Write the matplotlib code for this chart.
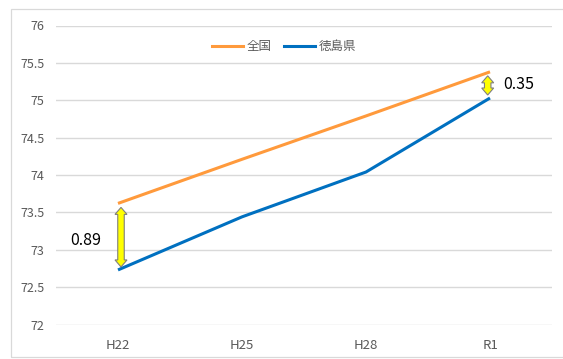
import matplotlib
matplotlib.use("Agg")
import matplotlib.pyplot as plt
from matplotlib.patches import Polygon, Rectangle
from matplotlib.lines import Line2D
import numpy as np

plt.rcParams['font.family'] = ['Noto Sans CJK JP', 'DejaVu Sans']

# Data
periods = ["H22", "H25", "H28", "R1"]
national = [73.62, 74.21, 74.79, 75.38]
tokushima = [72.73, 73.44, 74.04, 75.03]
series_names = ["全国", "徳島県"]
gap_positions = [0, 3]
y_ticks = [72, 72.5, 73, 73.5, 74, 74.5, 75, 75.5, 76]

ORANGE = "#FF9A3C"
BLUE = "#0070C0"
GRID = "#D9D9D9"
TEXT = "#595959"

DPI = 100
W, H = 563, 359
fig = plt.figure(figsize=(W / DPI, H / DPI), dpi=DPI)

# Chart frame
fig.patches.append(Rectangle((10.7 / W, 2 / H), 1.05, (357 - 9) / H,
                             transform=fig.transFigure, fill=False,
                             edgecolor=GRID, linewidth=0.9, clip_on=False))

ax = fig.add_axes([56 / W, (H - 324.5) / H, (552 - 56) / W, (324.5 - 25.5) / H])
x = np.arange(len(periods))

ax.set_xlim(-0.5, len(periods) - 0.5)
ax.set_ylim(72, 76)
ax.set_yticks(y_ticks)
ax.set_yticklabels([f"{v:g}" for v in y_ticks])
ax.set_xticks(x)
ax.set_xticklabels(periods)
ax.yaxis.grid(True, color=GRID, linewidth=1.0)
ax.set_axisbelow(True)
for s in ax.spines.values():
    s.set_visible(False)
ax.tick_params(axis='y', length=0, pad=8.5, labelsize=9, labelcolor=TEXT)
ax.tick_params(axis='x', length=0, pad=10.5, labelsize=9.5, labelcolor=TEXT)

ax.plot(x, national, color=ORANGE, linewidth=2.2, solid_capstyle='butt', zorder=3)
ax.plot(x, tokushima, color=BLUE, linewidth=2.2, solid_capstyle='butt', zorder=3)

# Legend
handles = [Line2D([], [], color=ORANGE, linewidth=2.2),
           Line2D([], [], color=BLUE, linewidth=2.2)]
fig.legend(handles, series_names, loc='center', bbox_to_anchor=(284 / W, 1 - 46.7 / H),
           ncol=2, frameon=False, fontsize=9, labelcolor=TEXT,
           handlelength=2.5, handletextpad=0.3, columnspacing=1.0)

# Double-headed gap arrows between the two series
fig.canvas.draw()
to_px = ax.transData.transform


def double_arrow(xc_px, y_top, y_bot, body=6.5, head=12.0, head_len=7.0):
    hb, hh = body / 2, head / 2
    pts = [
        (xc_px, y_top),
        (xc_px + hh, y_top - head_len),
        (xc_px + hb, y_top - head_len),
        (xc_px + hb, y_bot + head_len),
        (xc_px + hh, y_bot + head_len),
        (xc_px, y_bot),
        (xc_px - hh, y_bot + head_len),
        (xc_px - hb, y_bot + head_len),
        (xc_px - hb, y_top - head_len),
        (xc_px - hh, y_top - head_len),
    ]
    fig.patches.append(Polygon(pts, closed=True, transform=None,
                               facecolor="#FFFF00", edgecolor="#7F7F7F",
                               linewidth=0.8, zorder=5))


label_offsets = {0: (-23, -2.6, 'center'), 3: (9.2, 0, 'left')}
arrow_shift = {0: 3.0, 3: -2.3}
for i in gap_positions:
    gap = national[i] - tokushima[i]
    xp, yt = to_px((x[i], national[i]))
    _, yb = to_px((x[i], tokushima[i]))
    double_arrow(xp + arrow_shift[i], yt - 4.0, yb + 3.0)
    dx, dy, ha = label_offsets[i]
    ax.annotate(f"{gap:.2f}", xy=(x[i], (national[i] + tokushima[i]) / 2),
                xytext=(dx, dy), textcoords='offset points',
                ha=ha, va='center', fontsize=11.5, color="#000000")

fig.savefig("out.png", dpi=DPI)
